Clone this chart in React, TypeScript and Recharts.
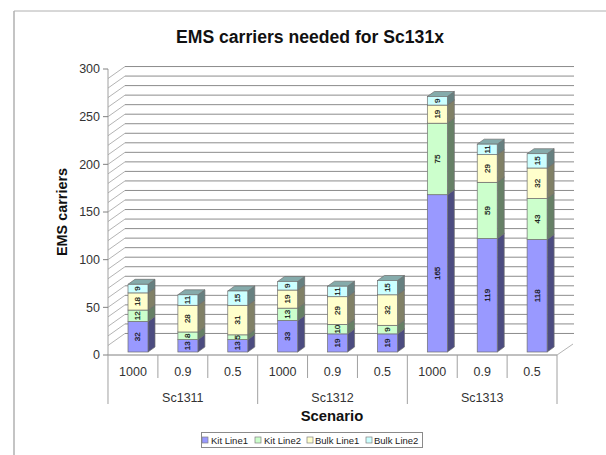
import React from "react";
import { BarChart, Bar, XAxis, YAxis, CartesianGrid, LabelList } from "recharts";

const scenarios = ["1000", "0.9", "0.5", "1000", "0.9", "0.5", "1000", "0.9", "0.5"];
const groups = ["Sc1311", "Sc1312", "Sc1313"];
const kitLine1 = [32, 13, 13, 33, 19, 19, 165, 119, 118];
const kitLine2 = [12, 8, 5, 13, 10, 9, 75, 59, 43];
const bulkLine1 = [18, 28, 31, 19, 29, 32, 19, 29, 32];
const bulkLine2 = [9, 11, 15, 9, 11, 15, 9, 11, 15];
const yTicks = [0, 50, 100, 150, 200, 250, 300];
const gridValues = [10, 20, 30, 40, 50, 60, 70, 80, 90, 100, 110, 120, 130, 140, 150, 160, 170, 180, 190, 200, 210, 220, 230, 240, 250, 260, 270, 280, 290];

const data = scenarios.map((s, i) => ({
  id: i,
  s,
  kit1: kitLine1[i],
  kit2: kitLine2[i],
  bulk1: bulkLine1[i],
  bulk2: bulkLine2[i],
}));

const FONT = "'Liberation Sans', Arial, sans-serif";
const DX = 17;
const DY = 12;
const BAR_DX = 7;
const BAR_DY = 5;
const SHIFT_X = 5;
const SHIFT_Y = -3;

function box(front: string, side: string, top: string) {
  return (p: any) => {
    const x = p.x + SHIFT_X;
    const y = p.y + SHIFT_Y;
    const w = p.width;
    const h = p.height;
    const edge = "#6e6e6e";
    return (
      <g>
        <path d={`M${x + w},${y} L${x + w + BAR_DX},${y - BAR_DY} L${x + w + BAR_DX},${y + h - BAR_DY} L${x + w},${y + h} Z`} fill={side} stroke={edge} strokeWidth={0.7} />
        <path d={`M${x},${y} L${x + BAR_DX},${y - BAR_DY} L${x + w + BAR_DX},${y - BAR_DY} L${x + w},${y} Z`} fill={top} stroke={edge} strokeWidth={0.7} />
        <rect x={x} y={y} width={w} height={h} fill={front} stroke={edge} strokeWidth={0.7} />
      </g>
    );
  };
}

const ValueLabel = (p: any) => {
  const cx = p.x + SHIFT_X + p.width / 2;
  const cy = p.y + SHIFT_Y + p.height / 2;
  return (
    <text
      x={cx}
      y={cy}
      transform={`rotate(-90 ${cx} ${cy})`}
      textAnchor="middle"
      dominantBaseline="central"
      fontFamily={FONT}
      fontSize={8}
      fill="#111"
      stroke="#111"
      strokeWidth={0.2}
    >
      {p.value}
    </text>
  );
};

const GridLine = (p: any) => {
  const y = p.y1;
  return (
    <g fill="none" stroke="#8c8c8c" strokeWidth={1}>
      <line x1={p.x1} y1={y} x2={p.x1 + DX} y2={y - DY} stroke="#b4b4b4" />
      <line x1={p.x1 + DX} y1={y - DY} x2={p.x2 + DX} y2={y - DY} />
    </g>
  );
};

const XTick = (p: any) => {
  const i = p.payload.index;
  const step = 49.9;
  const left = p.x - step / 2;
  const right = p.x + step / 2;
  const axisY = p.y - 8;
  const common = { fontFamily: FONT, fontSize: 12.5, fill: "#333", textAnchor: "middle" as const };
  const g = Math.floor(i / 3);
  return (
    <g>
      <text x={p.x} y={axisY + 20.5} {...common}>{scenarios[i]}</text>
      {i % 3 === 1 && <text x={p.x} y={axisY + 46.5} {...common}>{groups[g]}</text>}
      <line x1={right} y1={axisY} x2={right} y2={axisY + (i % 3 === 2 ? 49 : 23)} stroke="#a0a0a0" />
      {i === 0 && <line x1={left} y1={axisY} x2={left} y2={axisY + 49} stroke="#a0a0a0" />}
      {i === 8 && <line x1={right} y1={axisY} x2={right + DX - 1} y2={axisY - DY + 1} stroke="#b4b4b4" />}
    </g>
  );
};

const legendItems = [
  { name: "Kit Line1", color: "#9999FF", x: 202, tx: 211 },
  { name: "Kit Line2", color: "#CCFFCC", x: 255, tx: 264 },
  { name: "Bulk Line1", color: "#FFFFCC", x: 307, tx: 315 },
  { name: "Bulk Line2", color: "#CCFFFF", x: 366, tx: 374 },
];

export default function App() {
  return (
    <div style={{ position: "absolute", left: 0, top: 0, width: 606, height: 455, background: "#fff" }}>
      <BarChart width={606} height={455} data={data} margin={{ top: 69, right: 49, bottom: 0, left: 0 }} barSize={20}>
        <CartesianGrid vertical={false} horizontalValues={gridValues} horizontal={GridLine} />
        <XAxis
          dataKey="s"
          height={100}
          interval={0}
          tickLine={false}
          axisLine={{ stroke: "#808080" }}
          tick={XTick}
        />
        <YAxis
          width={108}
          domain={[0, 300]}
          ticks={yTicks}
          interval={0}
          tickSize={5}
          tickMargin={3}
          tickLine={{ stroke: "#808080" }}
          axisLine={{ stroke: "#a0a0a0" }}
          tick={{ fontFamily: FONT, fontSize: 12.5, fill: "#333" }}
        />
        <Bar dataKey="kit1" stackId="a" isAnimationActive={false} shape={box("#9999FF", "#4C4C80", "#7A7ACC")}>
          <LabelList dataKey="kit1" content={ValueLabel} />
        </Bar>
        <Bar dataKey="kit2" stackId="a" isAnimationActive={false} shape={box("#CCFFCC", "#668066", "#A3CCA3")}>
          <LabelList dataKey="kit2" content={ValueLabel} />
        </Bar>
        <Bar dataKey="bulk1" stackId="a" isAnimationActive={false} shape={box("#FFFFCC", "#808066", "#CCCCA3")}>
          <LabelList dataKey="bulk1" content={ValueLabel} />
        </Bar>
        <Bar dataKey="bulk2" stackId="a" isAnimationActive={false} shape={box("#CCFFFF", "#668080", "#85ABAB")}>
          <LabelList dataKey="bulk2" content={ValueLabel} />
        </Bar>
        <text x={310} y={42.5} textAnchor="middle" fontFamily={FONT} fontSize={17.6} fontWeight="bold" fill="#111">EMS carriers needed for Sc131x</text>
        <text x={67} y={212} transform="rotate(-90 67 212)" textAnchor="middle" fontFamily={FONT} fontSize={14.4} fontWeight="bold" fill="#111">EMS carriers</text>
        <text x={332} y={421} textAnchor="middle" fontFamily={FONT} fontSize={14.8} fontWeight="bold" fill="#111">Scenario</text>
        <rect x={201.5} y={432.5} width={221} height={15} fill="#fff" stroke="#8a8a8a" />
        {legendItems.map((it) => (
          <g key={it.name}>
            <rect x={it.x} y={437} width={6} height={6} fill={it.color} stroke="#808080" strokeWidth={0.7} />
            <text x={it.tx} y={443.5} fontFamily={FONT} fontSize={9.5} fill="#222">{it.name}</text>
          </g>
        ))}
        <line x1={14} y1={11} x2={14} y2={455} stroke="#b0b0b0" strokeWidth={1.5} />
        <line x1={14} y1={11} x2={606} y2={11} stroke="#b0b0b0" strokeWidth={1} />
      </BarChart>
    </div>
  );
}
